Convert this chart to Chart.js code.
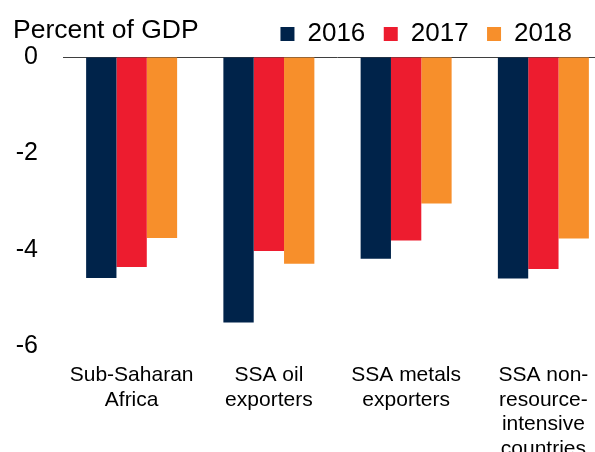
<!DOCTYPE html>
<html>
<head>
<meta charset="utf-8">
<script src="https://cdn.jsdelivr.net/npm/chart.js@4/dist/chart.umd.min.js"></script>
<style>
  html, body { margin: 0; padding: 0; background: #fff; overflow: hidden; }
  #wrap { width: 595px; height: 452px; overflow: hidden; position: relative; }
  canvas { display: block; }
</style>
</head>
<body>
<div id="wrap"><canvas id="c" width="612" height="452"></canvas></div>
<script>
const categories = [
  ["Sub-Saharan", "Africa"],
  ["SSA oil", "exporters"],
  ["SSA metals", "exporters"],
  ["SSA non-", "resource-", "intensive", "countries"]
];
const seriesNames = ["2016", "2017", "2018"];
const values2016 = [-4.59, -5.51, -4.19, -4.60];
const values2017 = [-4.36, -4.03, -3.81, -4.40];
const values2018 = [-3.76, -4.29, -3.04, -3.77];
const yTicks = [0, -2, -4, -6];
const unitLabel = "Percent of GDP";

const colors = ["#00234A", "#ED1C2F", "#F78F2B"];
const FONT = "'Liberation Sans', Arial, Helvetica, sans-serif";

const unitPlugin = {
  id: 'unitLabel',
  afterDraw(chart) {
    const ctx = chart.ctx;
    ctx.save();
    ctx.font = "26.5px " + FONT;
    ctx.fillStyle = "#000";
    ctx.textAlign = "left";
    ctx.textBaseline = "alphabetic";
    ctx.fillText(unitLabel, 13, 38);
    ctx.restore();
  }
};

new Chart(document.getElementById('c'), {
  type: 'bar',
  data: {
    labels: categories,
    datasets: [
      { label: seriesNames[0], data: values2016, backgroundColor: colors[0], borderWidth: 0 },
      { label: seriesNames[1], data: values2017, backgroundColor: colors[1], borderWidth: 0 },
      { label: seriesNames[2], data: values2018, backgroundColor: colors[2], borderWidth: 0 }
    ]
  },
  options: {
    responsive: false,
    animation: false,
    devicePixelRatio: 1,
    categoryPercentage: 0.663,
    barPercentage: 1.0,
    layout: { padding: { top: 17, left: 0, right: 0, bottom: 0 } },
    plugins: {
      tooltip: { enabled: false },
      title: { display: false },
      legend: {
        display: true,
        position: 'top',
        align: 'end',
        labels: {
          boxWidth: 14,
          boxHeight: 14,
          padding: 4,
          color: '#000',
          font: { family: FONT, size: 26 },
          generateLabels(chart) {
            const items = Chart.defaults.plugins.legend.labels.generateLabels(chart);
            return items.map((it, i) => Object.assign({}, it, {
              text: it.text + (i < items.length - 1 ? '  ' : '     ')
            }));
          }
        }
      }
    },
    scales: {
      x: {
        grid: { display: false, drawTicks: false },
        border: { display: false },
        ticks: {
          color: '#000',
          font: { family: FONT, size: 21, lineHeight: 1.167 },
          padding: 17,
          maxRotation: 0,
          autoSkip: false
        },
        afterFit(scale) { scale.height = 106; }
      },
      y: {
        min: -6,
        max: 0,
        grid: {
          drawTicks: false,
          lineWidth: 1,
          color: (ctx) => (ctx.tick && ctx.tick.value === 0) ? '#3f3f3f' : 'rgba(0,0,0,0)'
        },
        border: { display: false },
        afterBuildTicks(scale) { scale.ticks = yTicks.map(v => ({ value: v })); },
        ticks: {
          color: '#000',
          font: { family: FONT, size: 25 },
          padding: 25,
          callback: (v) => String(v)
        },
        afterFit(scale) { scale.width = 63; }
      }
    }
  },
  plugins: [unitPlugin]
});
</script>
</body>
</html>
